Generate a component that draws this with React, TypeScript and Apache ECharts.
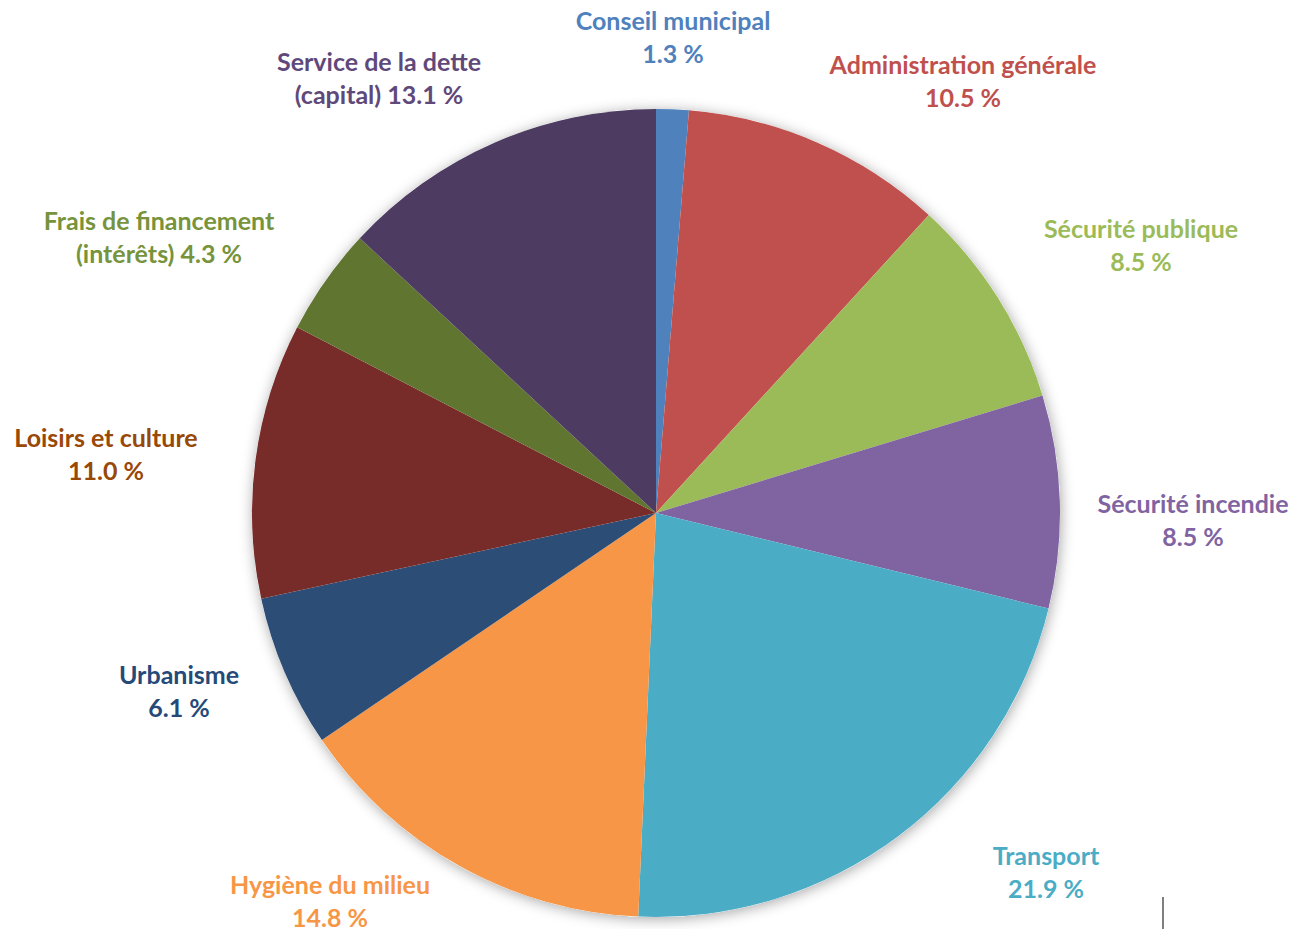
import React, { useEffect, useRef } from "react";
import * as echarts from "echarts";

const categories = [
  "Conseil municipal",
  "Administration générale",
  "Sécurité publique",
  "Sécurité incendie",
  "Transport",
  "Hygiène du milieu",
  "Urbanisme",
  "Loisirs et culture",
  "Frais de financement",
  "Service de la dette",
];

const values = [1.3, 10.5, 8.5, 8.5, 21.9, 14.8, 6.1, 11.0, 4.3, 13.1];

const labelTexts = [
  "Conseil municipal\n1.3 %",
  "Administration générale\n10.5 %",
  "Sécurité publique\n8.5 %",
  "Sécurité incendie\n8.5 %",
  "Transport\n21.9 %",
  "Hygiène du milieu\n14.8 %",
  "Urbanisme\n6.1 %",
  "Loisirs et culture\n11.0 %",
  "Frais de financement\n(intérêts) 4.3 %",
  "Service de la dette\n(capital) 13.1 %",
];

const sliceColors = [
  "#4F81BD",
  "#C0504D",
  "#9BBB59",
  "#8064A2",
  "#4BACC6",
  "#F79646",
  "#2C4D75",
  "#772C2A",
  "#5F7530",
  "#4D3B62",
];

const labelColors = [
  "#4F81BD",
  "#C0504D",
  "#9BBB59",
  "#8064A2",
  "#4BACC6",
  "#F79646",
  "#254A78",
  "#984807",
  "#77933C",
  "#5F497A",
];

// label centre positions (layout only)
const labelPos: [number, number][] = [
  [673, 36],
  [963, 80],
  [1141, 244],
  [1193, 519],
  [1046, 871],
  [330, 900],
  [179, 690],
  [106, 453],
  [159, 236],
  [379, 77],
];

export default function App() {
  const ref = useRef<HTMLDivElement>(null);

  useEffect(() => {
    if (!ref.current) return;
    const chart = echarts.init(ref.current, undefined, { renderer: "svg" });
    const data = categories.map((name, i) => ({
      name,
      value: values[i],
      itemStyle: { color: sliceColors[i] },
      label: { color: labelColors[i], formatter: labelTexts[i] },
    }));
    chart.setOption({
      animation: false,
      backgroundColor: "#ffffff",
      series: [
        {
          type: "pie",
          silent: true,
          center: [656, 513],
          radius: 404,
          z: 1,
          label: { show: false },
          labelLine: { show: false },
          data: [
            {
              value: 1,
              itemStyle: {
                color: "#ffffff",
                shadowBlur: 14,
                shadowColor: "rgba(0,0,0,0.35)",
                shadowOffsetX: 1,
                shadowOffsetY: 2,
              },
            },
          ],
        },
        {
          type: "pie",
          center: [656, 513],
          radius: 404,
          startAngle: 90,
          clockwise: true,
          z: 2,
          itemStyle: { borderWidth: 0 },
          label: {
            show: true,
            position: "outside",
            fontFamily: "Lato",
            fontWeight: "bold",
            fontSize: 25,
            lineHeight: 33,
            align: "center",
            overflow: "none",
            width: 400,
          },
          labelLine: { show: false },
          labelLayout: (params: any) => {
            const p = labelPos[params.dataIndex];
            return {
              x: p[0],
              y: p[1],
              align: "center",
              verticalAlign: "middle",
            };
          },
          data,
        },
      ],
      graphic: [
        {
          type: "line",
          shape: { x1: 1163, y1: 897, x2: 1163, y2: 929 },
          style: { stroke: "#7f7f7f", lineWidth: 2 },
        },
      ],
    });
    return () => chart.dispose();
  }, []);

  return (
    <div
      ref={ref}
      style={{ position: "fixed", left: 0, top: 0, width: 1293, height: 929 }}
    />
  );
}
